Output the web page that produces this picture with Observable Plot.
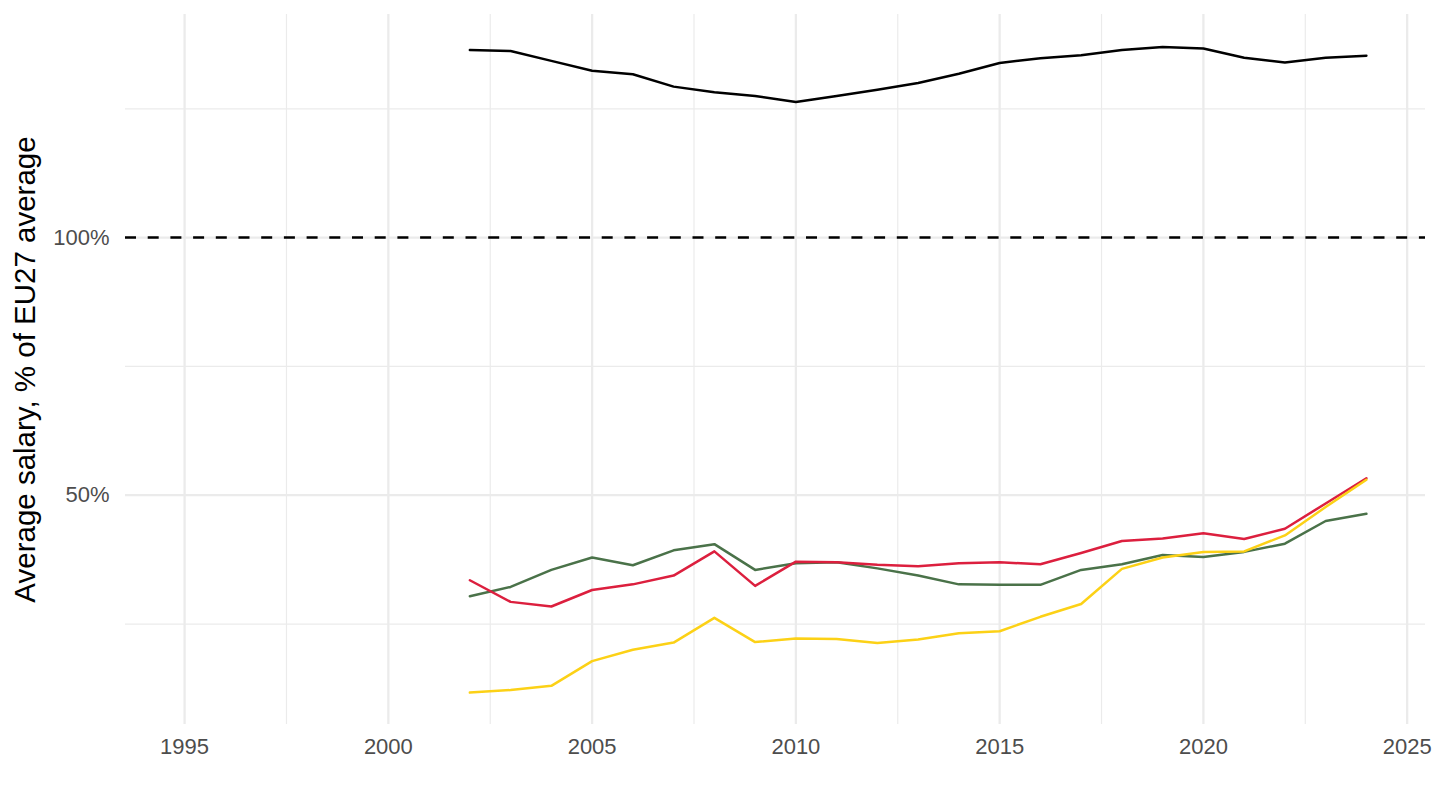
<!DOCTYPE html>
<html>
<head>
<meta charset="utf-8">
<script src="https://cdn.jsdelivr.net/npm/d3@7"></script>
<script src="https://cdn.jsdelivr.net/npm/@observablehq/plot@0.6"></script>
<style>
  html, body { margin: 0; padding: 0; background: #fff; }
  #chart svg { display: block; }
  g[aria-label="y-axis label"] text { font-size: 29.5px; fill: #000; }
</style>
</head>
<body>
<div id="chart"></div>
<script>
const years = [2002,2003,2004,2005,2006,2007,2008,2009,2010,2011,2012,2013,2014,2015,2016,2017,2018,2019,2020,2021,2022,2023,2024];
const seriesTop    = [136.4,136.2,134.3,132.4,131.7,129.3,128.2,127.5,126.3,127.5,128.7,130.0,131.8,133.9,134.8,135.4,136.4,137.0,136.7,134.9,134.0,134.9,135.3];
const seriesGreen  = [30.4,32.2,35.5,37.9,36.4,39.3,40.5,35.5,36.8,37.0,35.8,34.4,32.7,32.6,32.6,35.5,36.6,38.4,38.0,39.0,40.6,45.0,46.4];
const seriesRed    = [33.5,29.3,28.4,31.6,32.7,34.4,39.1,32.4,37.1,37.0,36.5,36.2,36.8,37.0,36.6,38.8,41.1,41.6,42.6,41.5,43.5,48.4,53.3];
const seriesYellow = [11.7,12.2,13.0,17.8,20.0,21.4,26.2,21.5,22.2,22.1,21.3,22.0,23.2,23.6,26.4,28.9,35.7,37.9,39.0,39.1,42.2,47.7,53.0];

const seriesNames  = ["Series 1", "Series 2", "Series 3", "Series 4"];
const seriesValues = [seriesTop, seriesGreen, seriesRed, seriesYellow];
const seriesColors = ["#000000", "#4a7249", "#dc1f3e", "#fcd116"];

const xMajor = [1995, 2000, 2005, 2010, 2015, 2020, 2025];
const xMinor = [1997.5, 2002.5, 2007.5, 2012.5, 2017.5, 2022.5];
const yMajor = [50, 100];
const yMinor = [25, 75, 125];
const refLine = [100];

const rows = seriesNames.flatMap((s, i) =>
  years.map((yr, j) => ({series: s, year: yr, value: seriesValues[i][j]}))
);

const chart = Plot.plot({
  width: 1440,
  height: 810,
  marginLeft: 125,
  marginRight: 15,
  marginTop: 14,
  marginBottom: 86,
  style: {fontFamily: "'Liberation Sans', Arial, sans-serif", fontSize: "22px", background: "#fff"},
  x: {domain: [1993.55, 2025.45]},
  y: {domain: [5.5, 143.3]},
  color: {domain: seriesNames, range: seriesColors},
  marks: [
    Plot.ruleX(xMinor, {stroke: "#ebebeb", strokeWidth: 1.2}),
    Plot.ruleY(yMinor, {stroke: "#ebebeb", strokeWidth: 1.2}),
    Plot.ruleX(xMajor, {stroke: "#ebebeb", strokeWidth: 2.3}),
    Plot.ruleY(yMajor, {stroke: "#ebebeb", strokeWidth: 2.3}),
    Plot.axisX({ticks: xMajor, tickFormat: d3.format("d"), tickSize: 0, tickPadding: 14, label: null, color: "#4d4d4d", fontSize: 22}),
    Plot.axisY({ticks: yMajor, tickFormat: d => d + "%", tickSize: 0, tickPadding: 16, color: "#4d4d4d", fontSize: 22,
      label: "Average salary, % of EU27 average", labelAnchor: "center", labelOffset: 111, labelArrow: "none"}),
    Plot.ruleY(refLine, {stroke: "#000", strokeWidth: 2.5, strokeDasharray: "11,11.7"}),
    Plot.line(rows, {x: "year", y: "value", z: "series", stroke: "series", strokeWidth: 2.5})
  ]
});
document.getElementById("chart").appendChild(chart);
</script>
</body>
</html>
